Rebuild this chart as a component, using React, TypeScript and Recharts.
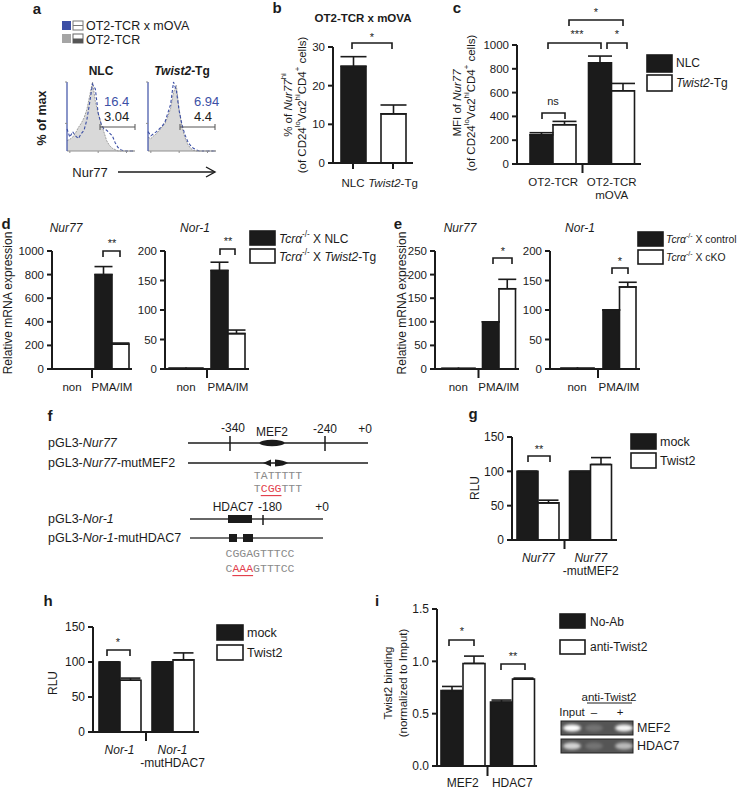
import React from 'react';
import { BarChart, Bar, Cell, XAxis, YAxis, ErrorBar, ComposedChart, Area, Line } from 'recharts';

const FONT = "'Liberation Sans', Arial, Helvetica, sans-serif";
const MONO = "'Liberation Mono', 'DejaVu Sans Mono', monospace";
const INK = '#1b1b1b';
const BLUE = '#3c4fa5';
const RED = '#e2404c';

// a: flow histograms, % of max per bin (log Nur77 axis)
const histBins = [0, 1, 2, 3, 4, 5, 6, 7, 8, 9, 10, 11, 12, 13, 14, 15, 16, 17, 18, 19, 20, 21, 22, 23, 24];
const nlcTcr = [15, 17, 20, 26, 34, 40, 48, 60, 80, 100, 72, 55, 40, 28, 15, 8, 4, 2, 0, 0, 0, 0, 0, 0, 0];
const nlcMova = [32, 20, 28, 22, 18, 25, 30, 45, 70, 97, 90, 55, 40, 32, 30, 26, 22, 12, 5, 2, 0, 0, 0, 0, 0];
const tgTcr = [20, 18, 22, 25, 30, 35, 40, 50, 62, 85, 95, 60, 35, 20, 10, 4, 1, 0, 0, 0, 0, 0, 0, 0, 0];
const tgMova = [28, 22, 25, 28, 32, 36, 42, 55, 68, 100, 88, 58, 38, 24, 14, 8, 4, 2, 0, 0, 0, 0, 0, 0, 0];

// b
const bCats = ['NLC', '_Twist2_-Tg'];
const bMean = [25, 12.7];
const bErr = [2.5, 2.3];

// c
const cCats = ['OT2-TCR', 'OT2-TCR|mOVA'];
const cNlc = [245, 850];
const cNlcErr = [18, 57];
const cTg = [330, 615];
const cTgErr = [28, 62];

// d, e
const stimCats = ['non', 'PMA/IM'];
const dNurNlc = [1, 800];
const dNurNlcErr = [0, 68];
const dNurTg = [1, 210];
const dNurTgErr = [0, 10];
const dNorNlc = [1, 167];
const dNorNlcErr = [0, 14];
const dNorTg = [1, 60];
const dNorTgErr = [0, 6];
const eNurCtl = [1, 100];
const eNurCtlErr = [0, 0];
const eNurKo = [1, 170];
const eNurKoErr = [0, 20];
const eNorCtl = [1, 100];
const eNorCtlErr = [0, 0];
const eNorKo = [1, 139];
const eNorKoErr = [0, 8];

// g, h
const gCats = ['_Nur77_', '_Nur77_|-mutMEF2'];
const gMock = [100, 100];
const gTw = [54, 110];
const gTwErr = [4, 10];
const hCats = ['_Nor-1_', '_Nor-1_|-mutHDAC7'];
const hMock = [100, 100];
const hTw = [74, 103];
const hTwErr = [3, 10];
const zeroErr = [0, 0];

// i
const iCats = ['MEF2', 'HDAC7'];
const iNoAb = [0.72, 0.61];
const iNoAbErr = [0.04, 0.02];
const iAnti = [0.98, 0.83];
const iAntiErr = [0.07, 0.01];

// _x_ = italic, ^x^ = superscript
function rich(s: string, fs: number) {
  return s
    .split(/(_[^_]+_|\^[^^]+\^)/)
    .filter(Boolean)
    .map((p, i) => {
      if (p[0] === '_') return <tspan key={i} fontStyle="italic">{p.slice(1, -1)}</tspan>;
      if (p[0] === '^')
        return (
          <tspan key={i} fontSize={fs * 0.68} baselineShift="super">
            {p.slice(1, -1)}
          </tspan>
        );
      return <tspan key={i}>{p}</tspan>;
    });
}

function T({ x, y, s, fs = 12, anchor = 'start', rot = false, bold = false, fill = INK }: any) {
  return (
    <text
      x={x}
      y={y}
      fontSize={fs}
      fill={fill}
      fontWeight={bold ? 'bold' : 'normal'}
      textAnchor={anchor}
      dominantBaseline="central"
      transform={rot ? `rotate(-90 ${x} ${y})` : undefined}
    >
      {rich(s, fs)}
    </text>
  );
}

const Br = ({ x1, x2, y, d = 6 }: any) => (
  <path d={`M${x1} ${y + d} V${y} H${x2} V${y + d}`} fill="none" stroke={INK} strokeWidth={1.6} />
);

const Sw = ({ x, y, w = 25, h = 14, dark }: any) => (
  <rect x={x} y={y} width={w} height={h} fill={dark ? INK : '#fff'} stroke={INK} strokeWidth={1.6} />
);

type S = { key: string; vals: number[]; errs: number[]; fill: string | string[] };

const table = (cats: string[], series: S[]) =>
  cats.map((cat, i) => {
    const row: Record<string, any> = { cat };
    series.forEach((s) => {
      row[s.key] = s.vals[i];
      row[s.key + 'E'] = [0, s.errs[i]];
    });
    return row;
  });

function catTick(band: number, mode: string, fs: number, gap: number, drop: number) {
  return (p: any) => {
    const { x, y, payload } = p;
    const idx = p.index ?? payload?.index ?? 0;
    const lines = String(payload.value).split('|');
    return (
      <g>
        {mode === 'each' && <line x1={x} x2={x} y1={y} y2={y + 6} stroke={INK} strokeWidth={2} />}
        {mode === 'mid' && idx === 1 && (
          <line x1={x - band / 2} x2={x - band / 2} y1={y} y2={y + drop} stroke={INK} strokeWidth={2} />
        )}
        {lines.map((l, i) => (
          <text key={i} x={x} y={y + gap + i * fs * 1.1} textAnchor="middle" dominantBaseline="central" fontSize={fs} fill={INK}>
            {rich(l, fs)}
          </text>
        ))}
      </g>
    );
  };
}

function BarPanel({ x, y, w, h, cats, series, domain, ticks, fs = 12, barSize, cap, mode = 'mid', boxed = false, padL = 0, padR = 0, fmt, gap = 18, drop = 9 }: any) {
  const ML = 46, MT = 10, MR = 6, XH = 42;
  const data = table(cats, series);
  const band = (w - padL - padR) / cats.length;
  const axis = { stroke: INK, strokeWidth: 2 };
  return (
    <div style={{ position: 'absolute', left: x - ML, top: y - MT }}>
      <BarChart width={ML + w + MR} height={MT + h + XH} data={data} margin={{ top: MT, right: MR, bottom: 0, left: 0 }} barGap={0}>
        <XAxis dataKey="cat" height={XH} interval={0} padding={{ left: padL, right: padR }} axisLine={axis} tickLine={false} tickSize={0} tickMargin={0} tick={catTick(band, mode, fs, gap, drop)} />
        <YAxis width={ML} domain={domain} ticks={ticks} interval={0} allowDataOverflow tickFormatter={fmt} axisLine={axis} tickLine={axis} tickSize={5} tickMargin={3} tick={{ fontSize: fs, fill: INK }} />
        {boxed && <XAxis xAxisId="top" orientation="top" dataKey="cat" height={0} tick={false} tickLine={false} axisLine={axis} />}
        {boxed && <YAxis yAxisId="right" orientation="right" width={0} tick={false} tickLine={false} axisLine={axis} />}
        {series.map((s: S) => (
          <Bar key={s.key} dataKey={s.key} fill={typeof s.fill === 'string' ? s.fill : INK} stroke={INK} strokeWidth={1.6} barSize={barSize} isAnimationActive={false}>
            {Array.isArray(s.fill) && s.fill.map((f, i) => <Cell key={i} fill={f} />)}
            <ErrorBar dataKey={s.key + 'E'} width={cap} stroke={INK} strokeWidth={1.6} direction="y" isAnimationActive={false} />
          </Bar>
        ))}
      </BarChart>
    </div>
  );
}

function Hist({ x, y, w, h, gray, blue }: any) {
  const data = histBins.map((b, i) => ({ b, gray: gray[i], blue: blue[i] }));
  const box = { stroke: '#8f8f8f', strokeWidth: 1 };
  const none = () => <g />;
  return (
    <div style={{ position: 'absolute', left: x - 6, top: y - 4 }}>
      <ComposedChart width={6 + w + 4} height={4 + h + 6} data={data} margin={{ top: 4, right: 4, bottom: 0, left: 0 }}>
        <XAxis dataKey="b" type="number" domain={[0, 24]} ticks={[1, 6, 11, 16, 21]} height={6} axisLine={box} tickLine={box} tickSize={2} tick={none} />
        <YAxis width={6} domain={[0, 100]} ticks={[0, 20, 40, 60, 80, 100]} axisLine={{ stroke: BLUE, strokeWidth: 1.2 }} tickLine={box} tickSize={2} tick={none} />
        <XAxis xAxisId="t" orientation="top" dataKey="b" type="number" domain={[0, 24]} height={0} tick={false} tickLine={false} axisLine={box} />
        <YAxis yAxisId="r" orientation="right" width={0} domain={[0, 100]} tick={false} tickLine={false} axisLine={box} />
        <Area type="linear" dataKey="gray" fill="#d9d9d9" fillOpacity={1} stroke="#8a8a8a" strokeWidth={0.8} strokeDasharray="2 1" isAnimationActive={false} />
        <Line type="linear" dataKey="blue" stroke={BLUE} strokeWidth={1.1} strokeDasharray="3 2" dot={false} isAnimationActive={false} />
      </ComposedChart>
    </div>
  );
}

const black = (key: string, vals: number[], errs: number[]): S => ({ key, vals, errs, fill: INK });
const white = (key: string, vals: number[], errs: number[]): S => ({ key, vals, errs, fill: '#fff' });

export default function App() {
  return (
    <div style={{ position: 'absolute', left: 0, top: 0, width: 741, height: 790, background: '#fff', overflow: 'hidden', fontFamily: FONT, color: INK }}>
      {/* a */}
      <Hist x={67} y={82} w={68} h={69} gray={nlcTcr} blue={nlcMova} />
      <Hist x={148} y={82} w={68} h={69} gray={tgTcr} blue={tgMova} />

      {/* b */}
      <BarPanel x={333} y={47} w={80} h={116} cats={bCats} series={[{ key: 'v', vals: bMean, errs: bErr, fill: [INK, '#fff'] }]} domain={[0, 30]} ticks={[0, 10, 20, 30]} fs={11.5} barSize={25} cap={13} mode="each" gap={20} />

      {/* c */}
      <BarPanel x={517} y={45} w={124} h={119} padL={7} cats={cCats} series={[black('n', cNlc, cNlcErr), white('t', cTg, cTgErr)]} domain={[0, 1000]} ticks={[0, 200, 400, 600, 800, 1000]} fs={11.5} barSize={23} cap={12} gap={18} />

      {/* d */}
      <BarPanel x={52} y={251} w={80} h={118} cats={stimCats} series={[black('n', dNurNlc, dNurNlcErr), white('t', dNurTg, dNurTgErr)]} domain={[0, 1000]} ticks={[0, 200, 400, 600, 800, 1000]} fs={11.5} barSize={17} cap={9} />
      <BarPanel x={165} y={251} w={84} h={118} cats={stimCats} series={[black('n', dNorNlc, dNorNlcErr), white('t', dNorTg, dNorTgErr)]} domain={[0, 200]} ticks={[0, 50, 100, 150, 200]} fs={11.5} barSize={17} cap={9} />

      {/* e */}
      <BarPanel x={435} y={251} w={84} h={118} padL={3} cats={stimCats} series={[black('n', eNurCtl, eNurCtlErr), white('t', eNurKo, eNurKoErr)]} domain={[0, 250]} ticks={[0, 50, 100, 150, 200, 250]} fs={11.5} barSize={16.5} cap={9} />
      <BarPanel x={550} y={251} w={90} h={118} padL={6} cats={stimCats} series={[black('n', eNorCtl, eNorCtlErr), white('t', eNorKo, eNorKoErr)]} domain={[0, 200]} ticks={[0, 50, 100, 150, 200]} fs={11.5} barSize={16.5} cap={9} />

      {/* g, h */}
      <BarPanel x={512} y={437} w={105} h={103} cats={gCats} series={[black('n', gMock, zeroErr), white('t', gTw, gTwErr)]} domain={[0, 150]} ticks={[0, 50, 100, 150]} fs={12} barSize={21} cap={10} boxed gap={18} />
      <BarPanel x={93} y={627} w={106} h={105} cats={hCats} series={[black('n', hMock, zeroErr), white('t', hTw, hTwErr)]} domain={[0, 150]} ticks={[0, 50, 100, 150]} fs={12} barSize={21} cap={10} boxed gap={18} />

      {/* i */}
      <BarPanel x={437} y={609} w={100} h={157} padL={1} cats={iCats} series={[black('n', iNoAb, iNoAbErr), white('t', iAnti, iAntiErr)]} domain={[0, 1.5]} ticks={[0, 0.5, 1, 1.5]} fmt={(v: number) => v.toFixed(1)} fs={12} barSize={22} cap={10} gap={17} drop={10} />

      <svg width={741} height={790} style={{ position: 'absolute', left: 0, top: 0, pointerEvents: 'none' }}>
        <defs>
          <filter id="blur" x="-50%" y="-50%" width="200%" height="200%">
            <feGaussianBlur stdDeviation="1.6" />
          </filter>
        </defs>
        {/* panel letters */}
        {[
          ['a', 37, 8], ['b', 277, 7], ['c', 457, 7], ['d', 6, 223], ['e', 398, 223],
          ['f', 50, 415], ['g', 473, 413], ['h', 48, 600], ['i', 377, 600],
        ].map(([l, x, y]) => (
          <T key={l as string} x={x} y={y} s={l} fs={15} bold anchor="middle" />
        ))}

        {/* a */}
        <rect x={62} y={21} width={9} height={9} fill={BLUE} />
        <rect x={73} y={21} width={10} height={9} fill="#fff" stroke="#777" strokeWidth={1} />
        <line x1={73} x2={83} y1={25.5} y2={25.5} stroke="#777" strokeWidth={1} />
        <rect x={62} y={34} width={9} height={9} fill="#a5a5a5" />
        <rect x={73} y={34} width={10} height={9} fill="#fff" stroke="#666" strokeWidth={1} />
        <rect x={73} y={38.5} width={10} height={4.5} fill="#555" />
        <T x={86} y={26} s="OT2-TCR x mOVA" fs={12.5} />
        <T x={86} y={40} s="OT2-TCR" fs={12.5} />
        <T x={101} y={71} s="NLC" fs={12} bold anchor="middle" />
        <T x={182} y={71} s="_Twist2_-Tg" fs={12} bold anchor="middle" />
        <T x={42} y={118} s="% of max" fs={12.5} bold rot anchor="middle" />
        <T x={104} y={101} s="16.4" fs={13} fill={BLUE} />
        <T x={104} y={116} s="3.04" fs={13} />
        <T x={194} y={101} s="6.94" fs={13} fill={BLUE} />
        <T x={194} y={116} s="4.4" fs={13} />
        <path d="M100 124 V130 M100 127 H135 M135 124 V130" stroke="#555" strokeWidth={1} fill="none" />
        <path d="M180 124 V130 M180 127 H215 M215 124 V130" stroke="#555" strokeWidth={1} fill="none" />
        <T x={90} y={172} s="Nur77" fs={13} anchor="middle" />
        <line x1={118} x2={214} y1={172} y2={172} stroke={INK} strokeWidth={1.4} />
        <path d="M206 167 L215 172 L206 177" fill="none" stroke={INK} strokeWidth={1.4} />

        {/* b */}
        <T x={363} y={18} s="OT2-TCR x mOVA" fs={11.5} bold anchor="middle" />
        <Br x1={352} x2={392} y={43} />
        <T x={372} y={37} s="*" fs={11} anchor="middle" />
        <T x={288} y={105} s="% of _Nur77_^hi^" fs={11.5} rot anchor="middle" />
        <T x={302} y={105} s="(of CD24^lo^Vα2^hi^CD4^+^ cells)" fs={11.5} rot anchor="middle" />

        {/* c */}
        <Br x1={542} x2={565} y={113} />
        <T x={553} y={101} s="ns" fs={11} anchor="middle" />
        <Br x1={548} x2={601} y={43} />
        <T x={577} y={34} s="***" fs={11} anchor="middle" />
        <Br x1={607} x2={627} y={43} />
        <T x={617} y={34} s="*" fs={11} anchor="middle" />
        <Br x1={569} x2={623} y={20} />
        <T x={596} y={12} s="*" fs={11} anchor="middle" />
        <T x={457} y={103} s="MFI of _Nur77_" fs={11.5} rot anchor="middle" />
        <T x={471} y={103} s="(of CD24^lo^Vα2^hi^CD4^+^ cells)" fs={11.5} rot anchor="middle" />
        <Sw x={647} y={55} h={17} dark />
        <T x={676} y={63} s="NLC" fs={12} />
        <Sw x={647} y={75} h={16} />
        <T x={676} y={83} s="_Twist2_-Tg" fs={12} />

        {/* d */}
        <T x={66} y={228} s="_Nur77_" fs={12} anchor="middle" />
        <T x={195} y={228} s="_Nor-1_" fs={12} anchor="middle" />
        <Br x1={103} x2={120} y={251} />
        <T x={112} y={243} s="**" fs={11} anchor="middle" />
        <Br x1={220} x2={235} y={249} />
        <T x={228} y={241} s="**" fs={11} anchor="middle" />
        <T x={8} y={303} s="Relative mRNA expression" fs={12} rot anchor="middle" />
        <Sw x={250} y={231} dark />
        <T x={279} y={239} s="_Tcrα_^-/-^ X NLC" fs={12} />
        <Sw x={250} y={249} />
        <T x={279} y={257} s="_Tcrα_^-/-^ X _Twist2_-Tg" fs={12} />

        {/* e */}
        <T x={460} y={228} s="_Nur77_" fs={12} anchor="middle" />
        <T x={580} y={228} s="_Nor-1_" fs={12} anchor="middle" />
        <Br x1={493} x2={512} y={258} />
        <T x={503} y={251} s="*" fs={11} anchor="middle" />
        <Br x1={612} x2={628} y={268} />
        <T x={620} y={261} s="*" fs={11} anchor="middle" />
        <T x={402} y={303} s="Relative mRNA expression" fs={12} rot anchor="middle" />
        <Sw x={638} y={232} dark />
        <T x={666} y={239} s="_Tcrα_^-/-^ X control" fs={10.4} />
        <Sw x={638} y={250} />
        <T x={666} y={257} s="_Tcrα_^-/-^ X cKO" fs={10.4} />

        {/* f */}
        <g fontSize={12.5}>
          <T x={48} y={443} s="pGL3-_Nur77_" fs={12.5} />
          <T x={48} y={463} s="pGL3-_Nur77_-mutMEF2" fs={12.5} />
          <line x1={188} x2={368} y1={443} y2={443} stroke={INK} strokeWidth={1.5} />
          <line x1={230} x2={230} y1={436} y2={451} stroke={INK} strokeWidth={1.5} />
          <line x1={325} x2={325} y1={436} y2={451} stroke={INK} strokeWidth={1.5} />
          <ellipse cx={272} cy={443} rx={12.5} ry={3.2} fill={INK} />
          <T x={233} y={428} s="-340" fs={12} anchor="middle" />
          <T x={272} y={432} s="MEF2" fs={12} anchor="middle" />
          <T x={325} y={429} s="-240" fs={12} anchor="middle" />
          <T x={365} y={429} s="+0" fs={12} anchor="middle" />
          <line x1={188} x2={368} y1={463} y2={463} stroke={INK} strokeWidth={1.5} />
          <polygon points="263,463 271,459.5 271,466.5" fill={INK} />
          <path d="M275 459.5 Q284 460 288 463 Q284 466 275 466.5 Z" fill={INK} />
          <text x={278} y={475} fontFamily={MONO} fontSize={11.5} fill="#8a8a8a" textAnchor="middle" dominantBaseline="central">TATTTTT</text>
          <text x={278} y={488} fontFamily={MONO} fontSize={11.5} fill="#8a8a8a" textAnchor="middle" dominantBaseline="central">
            T<tspan fill={RED} style={{ textDecoration: 'underline' }}>CGG</tspan>TTT
          </text>
          <T x={233} y={507} s="HDAC7" fs={12} anchor="middle" />
          <T x={270} y={507} s="-180" fs={12} anchor="middle" />
          <T x={322} y={507} s="+0" fs={12} anchor="middle" />
          <T x={48} y={519} s="pGL3-_Nor-1_" fs={12.5} />
          <T x={48} y={538} s="pGL3-_Nor-1_-mutHDAC7" fs={12.5} />
          <line x1={190} x2={323} y1={519} y2={519} stroke="#333" strokeWidth={1.5} />
          <rect x={228} y={515} width={24} height={8} fill={INK} />
          <line x1={263} x2={263} y1={515} y2={525} stroke={INK} strokeWidth={1.5} />
          <line x1={190} x2={323} y1={538} y2={538} stroke="#444" strokeWidth={1.5} />
          <rect x={229} y={534} width={8} height={8} fill={INK} />
          <rect x={243} y={534} width={10} height={8} fill={INK} />
          <text x={260} y={553} fontFamily={MONO} fontSize={11.5} fill="#8a8a8a" textAnchor="middle" dominantBaseline="central">CGGAGTTTCC</text>
          <text x={260} y={568} fontFamily={MONO} fontSize={11.5} fill="#8a8a8a" textAnchor="middle" dominantBaseline="central">
            C<tspan fill={RED} style={{ textDecoration: 'underline' }}>AAA</tspan>GTTTCC
          </text>
        </g>

        {/* g */}
        <Br x1={528} x2={550} y={456} />
        <T x={539} y={449} s="**" fs={11} anchor="middle" />
        <T x={475} y={488} s="RLU" fs={12} rot anchor="middle" />
        <Sw x={631} y={434} h={15} dark />
        <T x={660} y={442} s="mock" fs={12.5} />
        <Sw x={631} y={453} h={15} />
        <T x={660} y={461} s="Twist2" fs={12.5} />

        {/* h */}
        <Br x1={107} x2={130} y={650} />
        <T x={118} y={642} s="*" fs={11} anchor="middle" />
        <T x={53} y={683} s="RLU" fs={12} rot anchor="middle" />
        <Sw x={217} y={625} w={26} h={15} dark />
        <T x={247} y={633} s="mock" fs={12.5} />
        <Sw x={217} y={645} w={26} h={15} />
        <T x={247} y={653} s="Twist2" fs={12.5} />

        {/* i */}
        <Br x1={449} x2={474} y={640} />
        <T x={462} y={631} s="*" fs={11} anchor="middle" />
        <Br x1={501} x2={525} y={664} />
        <T x={513} y={656} s="**" fs={11} anchor="middle" />
        <T x={388} y={683} s="Twist2 binding" fs={11.5} rot anchor="middle" />
        <T x={403} y={683} s="(normalized to Imput)" fs={11.5} rot anchor="middle" />
        <Sw x={560} y={614} h={14} dark />
        <T x={590} y={622} s="No-Ab" fs={12} />
        <Sw x={560} y={640} h={14} />
        <T x={590} y={647} s="anti-Twist2" fs={12} />
        <T x={609} y={697} s="anti-Twist2" fs={11.5} anchor="middle" />
        <line x1={587} x2={632} y1={703} y2={703} stroke={INK} strokeWidth={1} />
        <T x={572} y={712} s="Input" fs={11.5} anchor="middle" />
        <T x={594} y={712} s="–" fs={11.5} anchor="middle" />
        <T x={620} y={712} s="+" fs={11.5} anchor="middle" />
        {[721, 739].map((yy, r) => (
          <g key={yy}>
            <rect x={561} y={yy} width={72} height={14} fill="#555" stroke="#222" strokeWidth={1} />
            {[572, 594, 624].map((cx, k) => (
              <ellipse key={cx} cx={cx} cy={yy + 7} rx={9} ry={3.5} fill="#fff" filter="url(#blur)"
                opacity={r === 0 ? [1, 0.18, 0.95][k] : [0.75, 0.18, 0.6][k]} />
            ))}
          </g>
        ))}
        <T x={637} y={728} s="MEF2" fs={12.5} />
        <T x={637} y={746} s="HDAC7" fs={12.5} />
      </svg>
    </div>
  );
}
